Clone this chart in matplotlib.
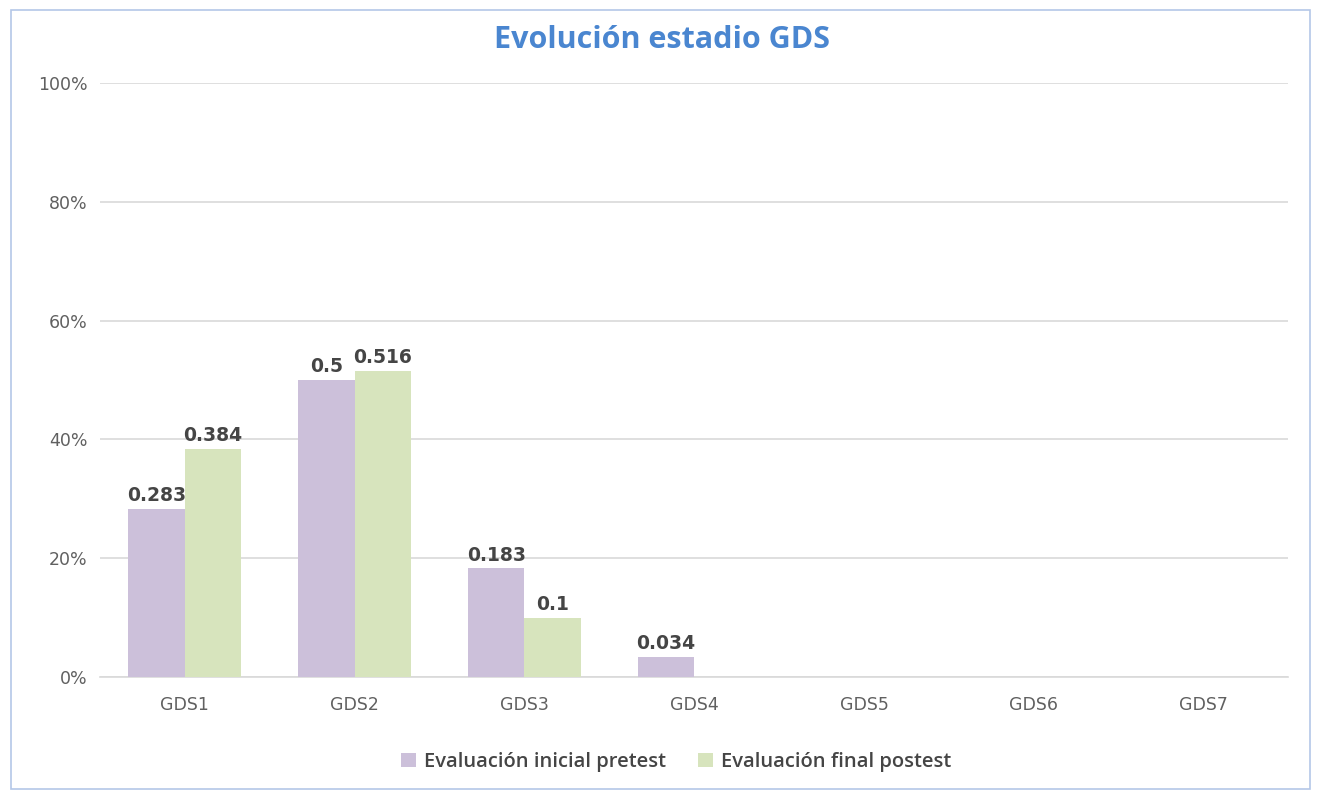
import matplotlib
matplotlib.use("Agg")
import matplotlib.pyplot as plt
from matplotlib.patches import Rectangle
import numpy as np

categories = ["GDS1", "GDS2", "GDS3", "GDS4", "GDS5", "GDS6", "GDS7"]
pretest = [0.283, 0.5, 0.183, 0.034, 0, 0, 0]
postest = [0.384, 0.516, 0.1, 0, 0, 0, 0]
series_names = ["Evaluación inicial pretest", "Evaluación final postest"]
yticks = [0, 0.2, 0.4, 0.6, 0.8, 1.0]
ytick_labels = ["0%", "20%", "40%", "60%", "80%", "100%"]

plt.rcParams['font.family'] = ['DejaVu Sans']

fig = plt.figure(figsize=(13.21, 7.93), dpi=100)
fig.patches.append(Rectangle((0.008, 0.005), 0.984, 0.982, transform=fig.transFigure,
                             fill=False, edgecolor="#b4c7e7", linewidth=1.2))
ax = fig.add_axes([0.0757, 0.1463, 0.8996, 0.749])

x = np.arange(len(categories))
w = 0.333
c_pre = "#ccc0da"
c_post = "#d7e4bd"
b1 = ax.bar(x - w/2, pretest, w, color=c_pre, label=series_names[0], zorder=3)
b2 = ax.bar(x + w/2, postest, w, color=c_post, label=series_names[1], zorder=3)

for bars, vals in ((b1, pretest), (b2, postest)):
    for rect, v in zip(bars, vals):
        if v > 0:
            ax.text(rect.get_x() + rect.get_width()/2, v + 0.006, f"{v:g}",
                    ha="center", va="bottom", fontsize=13.5, fontweight="bold",
                    color="#454545", zorder=4)

ax.set_xlim(-0.5, len(categories) - 0.5)
ax.set_ylim(0, 1.0)
ax.set_yticks(yticks)
ax.set_yticklabels(ytick_labels)
ax.set_xticks(x)
ax.set_xticklabels(categories)
ax.tick_params(axis="both", length=0, labelsize=12.5, colors="#606060")
ax.tick_params(axis="y", pad=9)
ax.tick_params(axis="x", pad=14)
ax.grid(axis="y", color="#d9d9d9", linewidth=1.2, zorder=0)
for s in ("top", "right", "left"):
    ax.spines[s].set_visible(False)
ax.spines["bottom"].set_color("#d9d9d9")
ax.spines["bottom"].set_linewidth(1.2)

fig.text(0.5008, 0.9395, "Evolución estadio GDS", ha="center", va="baseline",
         fontsize=22, fontweight="bold", color="#4a86d0",
         family=["Open Sans", "DejaVu Sans"])

fig.legend(handles=[b1, b2], labels=series_names, loc="center",
           bbox_to_anchor=(0.5117, 0.039), ncol=2, frameon=False,
           prop={"family": ["Open Sans", "DejaVu Sans"], "size": 14.5, "weight": "semibold"},
           labelcolor="#454545", handlelength=0.75,
           handleheight=0.75, handletextpad=0.4, columnspacing=1.6)

fig.savefig("out.png", dpi=100, facecolor="white")
